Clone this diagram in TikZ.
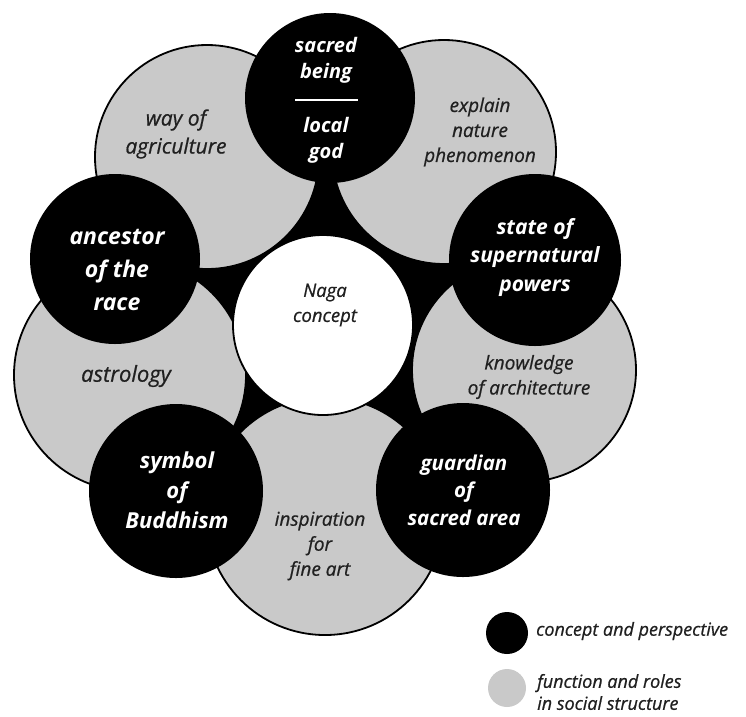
\documentclass[tikz,border=0pt]{standalone}
\usepackage{fontspec}
\setmainfont{Open Sans}
\newfontfamily\medfont{Open Sans}[FakeBold=0.7]
\definecolor{gfill}{RGB}{201,201,201}
\definecolor{gtext}{RGB}{32,32,32}
\begin{document}
\begin{tikzpicture}[x=1pt,y=-1pt,
  blk/.style={circle, fill=black, inner sep=0pt},
  gry/.style={circle, fill=gfill, draw=black, line width=1.8pt, inner sep=0pt},
  wht/.style={circle, fill=white, draw=black, line width=1.8pt, inner sep=0pt},
  btxt/.style={text=white, align=center, inner sep=0pt},
  gtxt/.style={text=gtext, align=center, inner sep=0pt},
  fs/.style n args={2}{font=\medfont\itshape\fontsize{#1}{#2}\selectfont},
  bfs/.style n args={2}{font=\bfseries\itshape\fontsize{#1}{#2}\selectfont}]
\useasboundingbox (0,0) rectangle (746,716);
% dark core
\node[blk, minimum size=300pt] (core) at (323,325) {};
% grey circles
\node[gry, minimum size=224pt] (g1) at (207,157) {};
\node[gry, minimum size=224pt] (g2) at (444,152) {};
\node[gry, minimum size=224pt] (g3) at (524,370) {};
\node[gry, minimum size=238pt] (g4) at (325,516) {};
\node[gry, minimum size=232pt] (g5) at (130,375) {};
% black circles
\node[blk, minimum size=170pt] (b1) at (330,98) {};
\node[blk, minimum size=172pt] (b2) at (535,260) {};
\node[blk, minimum size=174pt] (b3) at (463,490) {};
\node[blk, minimum size=174pt] (b4) at (176,491) {};
\node[blk, minimum size=170pt] (b5) at (115,259) {};
% centre
\node[wht, minimum size=180pt] (c) at (323,325) {};
% labels
\node[btxt, bfs={20}{26}] (t1a) at (326,60) {sacred\\being};
\node[btxt, bfs={20}{26}] (t1b) at (326,140) {local\\god};
\coordinate (r1) at (295,100);
\coordinate (r2) at (358,100);
\draw[white, line width=1.3pt] (r1) -- (r2);
\node[btxt, bfs={21}{28.5}] (t2) at (535,257) {state of\\supernatural\\powers};
\node[btxt, bfs={20.5}{27.5}] (t3) at (464,490) {guardian\\of\\sacred area};
\node[btxt, bfs={22}{30}] (t4) at (177,490) {symbol\\of\\Buddhism};
\node[btxt, bfs={23}{33}] (t5) at (117,270) {ancestor\\of the\\race};
\node[gtxt, fs={21}{28}] (u1) at (176,134) {way of\\agriculture};
\node[gtxt, fs={19}{25}] (u2) at (480,132) {explain\\nature\\phenomenon};
\node[gtxt, fs={19}{25}] (u3) at (529,377) {knowledge\\of architecture};
\node[gtxt, fs={19}{25}] (u4) at (320,546) {inspiration\\for\\fine art};
\node[gtxt, fs={22}{28}] (u5) at (126,376) {astrology};
\node[gtxt, fs={18.5}{25}] (cl) at (325,305) {Naga\\concept};
% legend
\node[blk, minimum size=42pt] (lb) at (507,633) {};
\node[circle, fill=gfill, inner sep=0pt, minimum size=38pt] (lg) at (507,688) {};
\node[gtxt, fs={18}{23}, anchor=west] (ll1) at (536,631) {concept and perspective};
\node[gtxt, fs={18}{22}, anchor=west, align=left] (ll2) at (537,692) {function and roles\\in social structure};
\end{tikzpicture}
\end{document}
